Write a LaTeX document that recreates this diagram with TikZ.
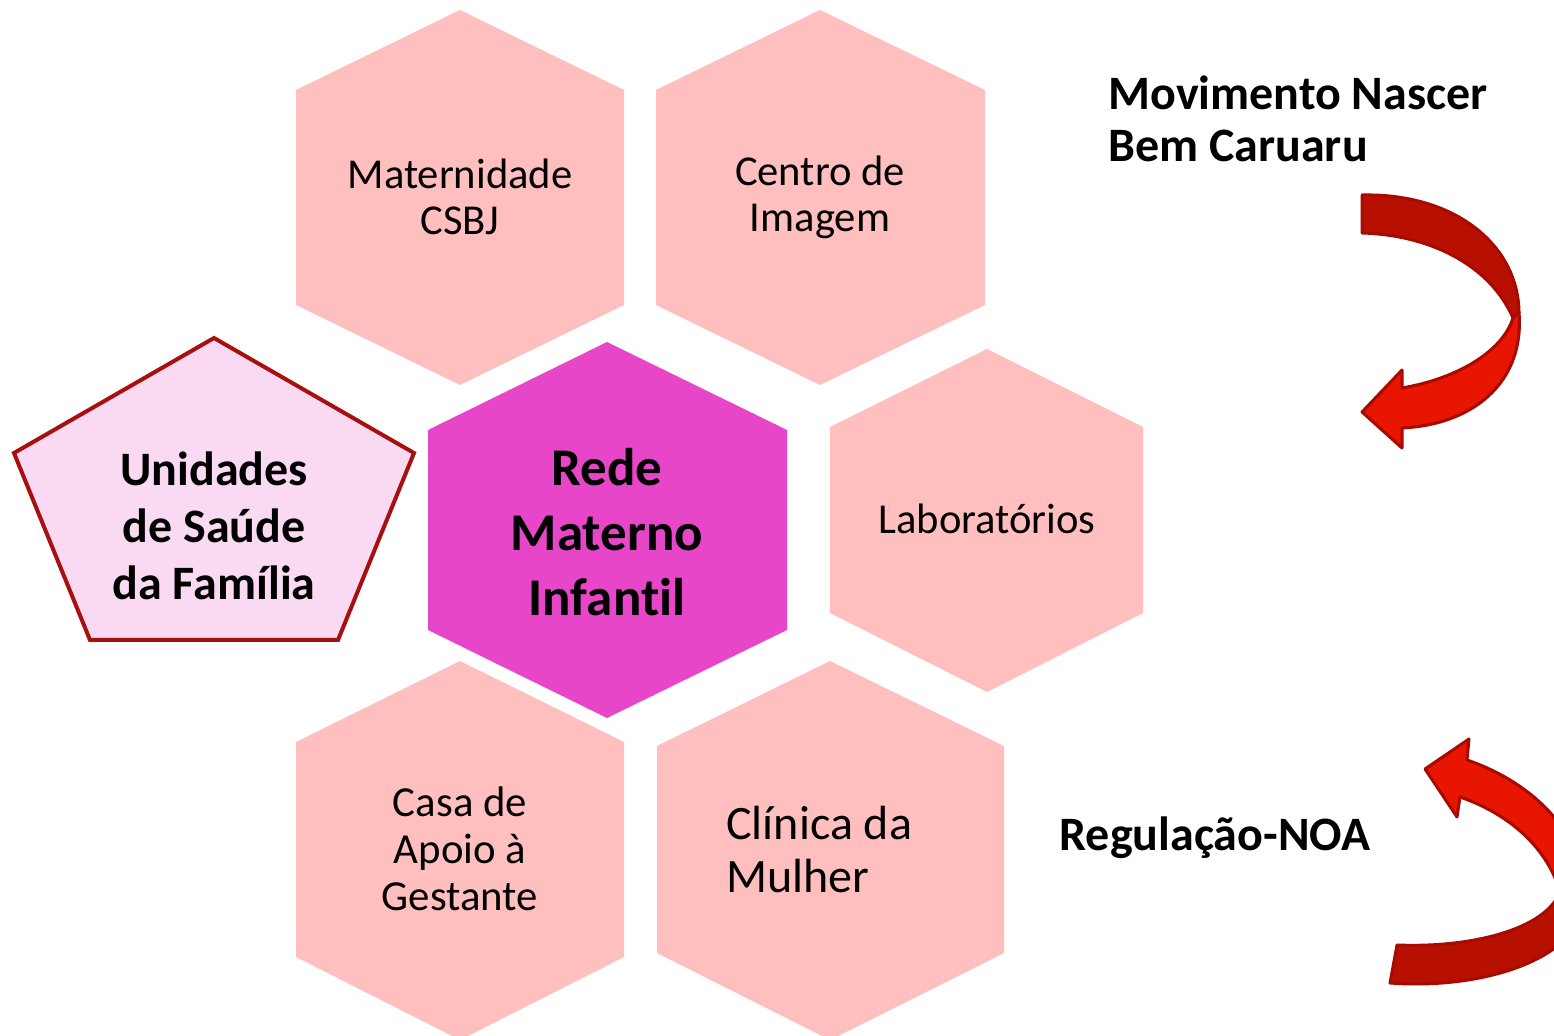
\documentclass[tikz,border=0pt]{standalone}
\usepackage{fontspec}
\setmainfont[Ligatures=NoCommon]{Carlito}
\begin{document}
\begin{tikzpicture}[x=0.5pt,y=-0.5pt,
  hexa/.style={fill=hexpink},
  hexc/.style={fill=hexmag},
  lbl/.style={align=center,inner sep=0pt,text=black},
  darkpart/.style={fill=arrdark,draw=arrline,line width=1.5pt,line join=round},
  brightpart/.style={fill=arrbright,draw=arrline,line width=1.5pt,line join=round}]
\definecolor{hexpink}{HTML}{FFBFBF}
\definecolor{hexmag}{HTML}{E846C8}
\definecolor{pentfill}{HTML}{FADAF2}
\definecolor{pentline}{HTML}{A80F0F}
\definecolor{arrdark}{HTML}{B81000}
\definecolor{arrbright}{HTML}{E81500}
\definecolor{arrline}{HTML}{A80A00}
\useasboundingbox (0,0) rectangle (1554,1036);
\fill[white] (0,0) rectangle (1554,1036);
\clip (0,0) rectangle (1554,1036);
% hexagons
\fill[hexa] (296,90)--(460,10)--(624,90)--(624,305)--(460,385)--(296,305)--cycle;
\fill[hexa] (656,90)--(820,10)--(985,90)--(985,305)--(820,385)--(656,305)--cycle;
\fill[hexc] (428,430)--(607,342)--(787,430)--(787,630)--(607,718)--(428,630)--cycle;
\fill[hexa] (830,427)--(987,349)--(1143,427)--(1143,613)--(987,692)--(830,613)--cycle;
\fill[hexa] (296,742)--(460,661)--(624,742)--(624,957)--(460,1040)--(296,957)--cycle;
\fill[hexa] (657,746)--(830,661)--(1004,746)--(1004,953)--(830,1040)--(657,953)--cycle;
% pentagon
\draw[fill=pentfill,draw=pentline,line width=2pt,line join=miter]
  (214,338)--(414,453)--(338,640)--(90,640)--(14,453)--cycle;
% texts
\node[lbl,font=\fontsize{21.3}{23}\selectfont] (mat) at (460,197) {Maternidade\\CSBJ};
\node[lbl,font=\fontsize{21.3}{23}\selectfont] (cen) at (820,197) {Centro de\\Imagem};
\node[lbl,font=\bfseries\fontsize{26.5}{32.5}\selectfont] (rede) at (607,532) {Rede\\Materno\\Infantil};
\node[lbl,font=\fontsize{21.3}{23}\selectfont] (lab) at (987,519) {Laboratórios};
\node[lbl,font=\fontsize{21.4}{23.5}\selectfont] (casa) at (460,849) {Casa de\\Apoio à\\Gestante};
\node[lbl,align=left,anchor=west,font=\fontsize{24}{26.5}\selectfont] (cli) at (726,850) {Clínica da\\Mulher};
\node[lbl,font=\bfseries\fontsize{24}{28.5}\selectfont] (usf) at (214,526) {Unidades\\de Saúde\\da Família};
\node[lbl,align=left,anchor=west,font=\bfseries\fontsize{24}{26}\selectfont] (mov) at (1108,119) {Movimento Nascer\\Bem Caruaru};
\node[lbl,font=\bfseries\fontsize{24}{26}\selectfont] (reg) at (1215,838) {Regulação-NOA};
% top curved arrow
\path[darkpart] (1362,195) .. controls (1455,193) and (1518,245) .. (1519,312)
  -- (1513,318) .. controls (1490,265) and (1430,235) .. (1362,233) -- cycle;
\path[brightpart] (1519,312) .. controls (1525,385) and (1470,425) .. (1402,428)
  -- (1402,448) -- (1362,412) -- (1402,370) -- (1402,388)
  .. controls (1460,378) and (1503,350) .. (1513,318) -- cycle;
% bottom curved arrow
\path[brightpart] (1467,760) -- (1469,739) -- (1425,769) -- (1457,817) -- (1460,797)
  .. controls (1512,815) and (1548,850) .. (1560,892)
  -- (1585,895) .. controls (1585,840) and (1540,785) .. (1467,760) -- cycle;
\path[darkpart] (1585,895) .. controls (1585,960) and (1480,990) .. (1390,983)
  -- (1397,945) .. controls (1470,948) and (1545,930) .. (1560,892) -- cycle;
\end{tikzpicture}
\end{document}
